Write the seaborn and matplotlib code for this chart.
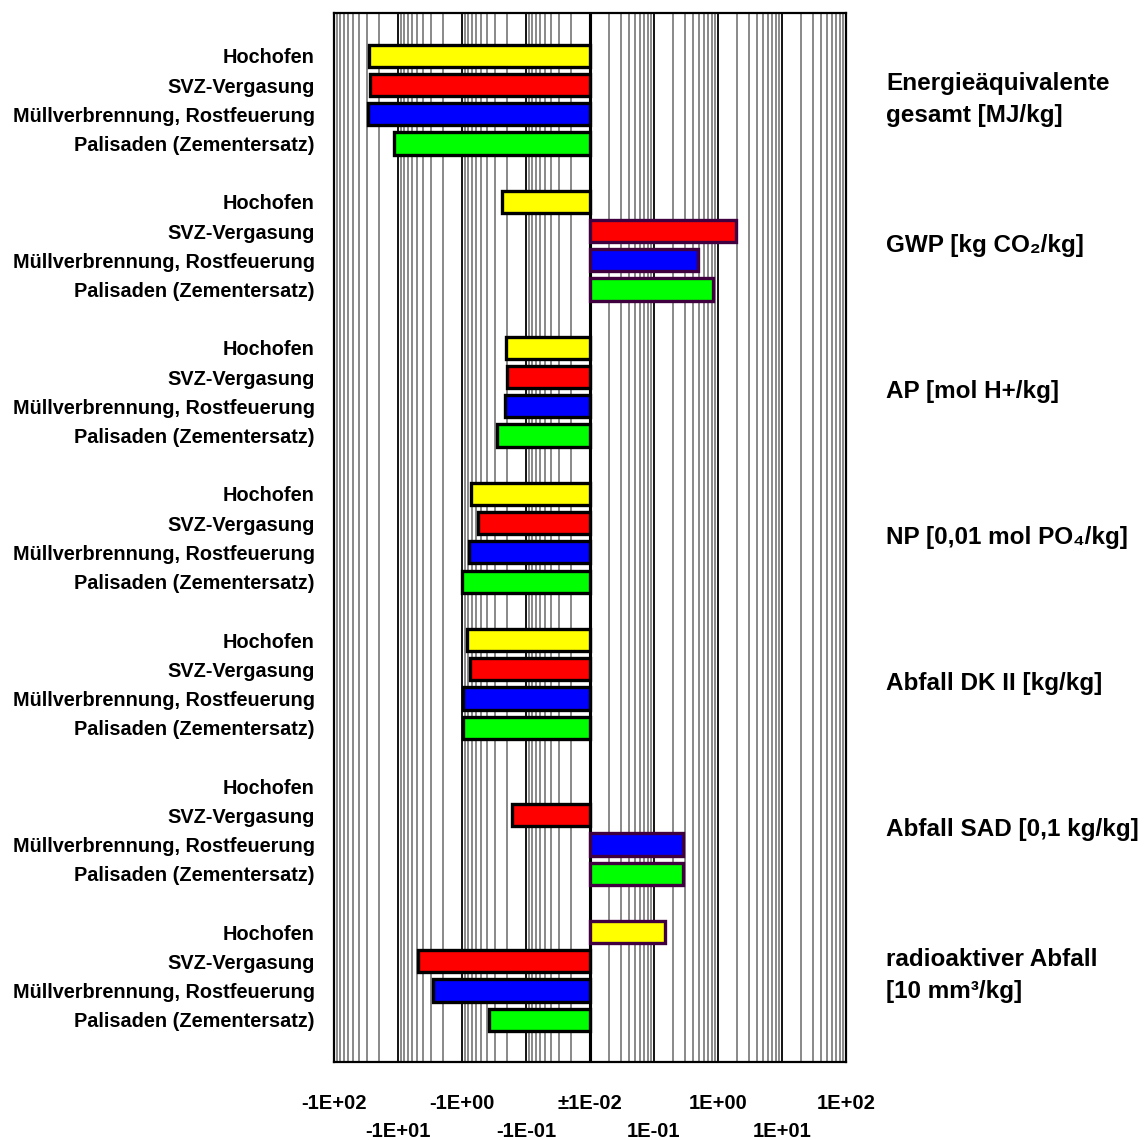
import numpy as np
import pandas as pd
import matplotlib
matplotlib.use("Agg")
import matplotlib.pyplot as plt
import matplotlib.transforms as mtransforms
import seaborn as sns

# ---------------- data ----------------
processes = ["Hochofen", "SVZ-Vergasung", "Müllverbrennung, Rostfeuerung", "Palisaden (Zementersatz)"]
indicators = [
    "Energieäquivalente\ngesamt [MJ/kg]",
    "GWP [kg CO₂/kg]",
    "AP [mol H+/kg]",
    "NP [0,01 mol PO₄/kg]",
    "Abfall DK II [kg/kg]",
    "Abfall SAD [0,1 kg/kg]",
    "radioaktiver Abfall\n[10 mm³/kg]",
]
hochofen   = [-28.0, -0.24, -0.205, -0.72, -0.83, np.nan, 0.148]
svz        = [-27.0, 1.9, -0.20, -0.56, -0.75, -0.166, -4.9]
muell      = [-29.0, 0.49, -0.21, -0.77, -0.96, 0.28, -2.8]
palisaden  = [-11.5, 0.83, -0.28, -1.0, -0.96, 0.28, -0.38]
colors = ["#FFFF00", "#FF0000", "#0000FF", "#00FF00"]
xtick_values = [-100, -10, -1, -0.1, 0.01, 0.1, 1, 10, 100]
xtick_labels = ["-1E+02", "-1E+01", "-1E+00", "-1E-01", "±1E-02", "1E-01", "1E+00", "1E+01", "1E+02"]

# ---------------- table ----------------
series = [hochofen, svz, muell, palisaden]
rows = []
slot_order = []
slot_labels = []
for g, ind in enumerate(indicators):
    for r, proc in enumerate(processes):
        sid = f"g{g}r{r}"
        slot_order.append(sid)
        slot_labels.append(proc)
        v = series[r][g]
        if not np.isnan(v):
            rows.append({"slot": sid, "value": v, "process": proc})
    if g < len(indicators) - 1:
        slot_order.append(f"gap{g}")
        slot_labels.append("")
df = pd.DataFrame(rows)

# ---------------- style ----------------
sns.set_style("white")
plt.rcParams["font.family"] = ["Liberation Sans", "DejaVu Sans"]
plt.rcParams["font.weight"] = "bold"
plt.rcParams["text.color"] = "black"
plt.rcParams["xtick.color"] = "black"
plt.rcParams["ytick.color"] = "black"

fig = plt.figure(figsize=(11.46, 11.40), dpi=100)
ax = fig.add_axes([334 / 1146, 1 - 1062 / 1140, 512 / 1146, 1049 / 1140])

sns.barplot(data=df, x="value", y="slot", hue="process", order=slot_order,
            hue_order=processes, palette=colors, dodge=False, orient="h",
            width=0.76, errorbar=None, legend=False, saturation=1, ax=ax)

def fwd(v):
    v = np.asarray(v, dtype=float)
    return np.sign(v) * (np.log10(np.maximum(np.abs(v), 0.01)) + 2)

def inv(t):
    t = np.asarray(t, dtype=float)
    return np.sign(t) * 10 ** (np.abs(t) - 2)

ax.set_xscale("function", functions=(fwd, inv))
ax.set_xlim(-100, 100)
n = len(slot_order)
ax.set_ylim(n - 1 + 1.45, -1.47)

# edges
for p in ax.patches:
    w = p.get_width()
    p.set_edgecolor("#400040" if w > 0 else "black")
    p.set_linewidth(2.4)
    p.set_zorder(3)

# grid lines
for d in range(-2, 2):
    for m in range(1, 10):
        v = m * 10.0 ** d
        for s in (-1, 1):
            if m == 1 and d == -2:
                ax.axvline(0.01, color="black", lw=2.2, zorder=1)
            elif m == 1:
                ax.axvline(s * v, color="black", lw=1.3, zorder=1)
            else:
                ax.axvline(s * v, color="#808080", lw=1.3, zorder=0.9)

for sp in ax.spines.values():
    sp.set_visible(True)
    sp.set_color("black")
    sp.set_linewidth(1.6)

# y labels
ax.set_yticks(range(n))
ax.set_yticklabels(slot_labels, fontsize=14.3, fontweight="bold", color="black")
ax.tick_params(axis="y", length=0, pad=14)
ax.set_ylabel("")

# x labels staggered
ax.set_xticks(xtick_values[0::2], xtick_labels[0::2])
ax.set_xticks(xtick_values[1::2], xtick_labels[1::2], minor=True)
ax.tick_params(axis="x", which="major", length=0, pad=23, labelsize=14.5, labelcolor="black")
ax.tick_params(axis="x", which="minor", length=0, pad=43, labelsize=14.5, labelcolor="black")
for lab in ax.get_xticklabels(which="both"):
    lab.set_fontweight("bold")
ax.set_xlabel("")

# indicator labels on the right
trans = mtransforms.blended_transform_factory(ax.transAxes, ax.transData)
for g, ind in enumerate(indicators):
    ax.text((886 - 334) / 512, g * 5 + 1.5, ind, transform=trans, ha="left", va="center",
            fontsize=17.5, fontweight="bold", linespacing=1.5, color="black")

fig.savefig("out.png", dpi=100, facecolor="white")
